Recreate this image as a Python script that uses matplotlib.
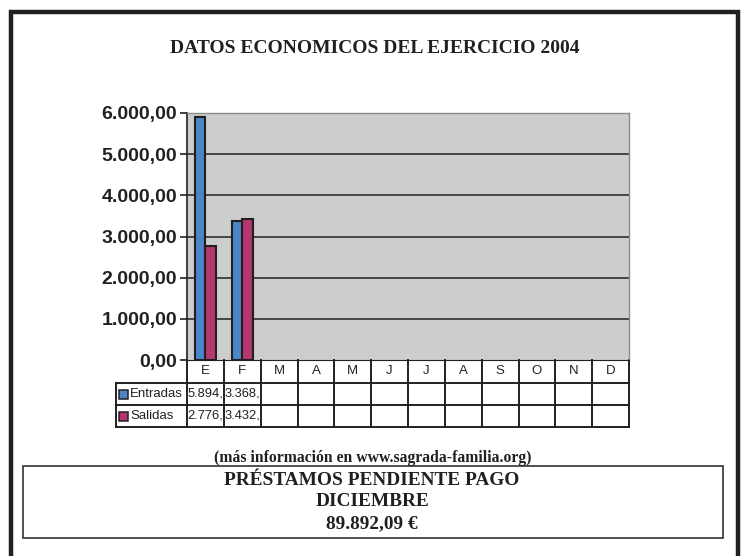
import matplotlib
matplotlib.use("Agg")
import matplotlib.pyplot as plt
from matplotlib.patches import Rectangle
from matplotlib.transforms import blended_transform_factory

# data
months = ["E", "F", "M", "A", "M", "J", "J", "A", "S", "O", "N", "D"]
entradas = [5894.0, 3368.0]
salidas = [2776.0, 3432.0]
series_names = ["Entradas", "Salidas"]
y_ticks = [0, 1000, 2000, 3000, 4000, 5000, 6000]

title = "DATOS ECONOMICOS DEL EJERCICIO 2004"
note = "(más información en www.sagrada-familia.org)"
box_lines = ["PRÉSTAMOS PENDIENTE PAGO", "DICIEMBRE", "89.892,09 €"]

BLUE = "#4b87c8"
MAGENTA = "#b5376f"
GRAY = "#cdcdcd"
INK = "#231f20"

W, H = 743, 556


def fmt(v):
    # spanish number format 1.234,56
    s = f"{v:,.2f}"
    return s.replace(",", "X").replace(".", ",").replace("X", ".")


def cell_text(v):
    # the table cells are too narrow, only the integer part and comma show
    return fmt(v).split(",")[0] + ","


def fy(py):
    return 1 - py / H


fig = plt.figure(figsize=(W / 100, H / 100), dpi=100)

# overlay in pixel coordinates for frame and text blocks
over = fig.add_axes([0, 0, 1, 1])
over.set_xlim(0, W)
over.set_ylim(H, 0)
over.axis("off")
over.plot([10.5, 10.5, 737.5, 737.5], [H + 5, 11.5, 11.5, H + 5], color=INK,
          lw=3.2, solid_joinstyle="miter")
over.text(374.5, 48.5, title, ha="center", va="center", family="Liberation Serif",
          weight="bold", fontsize=14, color=INK)
over.text(373, 458.5, note, ha="center", va="center", family="Liberation Serif",
          weight="bold", fontsize=11.3, color=INK)
over.add_patch(Rectangle((23, 466), 700, 72, fill=False, ec=INK, lw=1.1))
for i, line in enumerate(box_lines):
    over.text(372, 480.5 + i * 21.5, line, ha="center", va="center",
              family="Liberation Serif", weight="bold", fontsize=13.9, color=INK)

# main chart
x0, x1, ytop, ybot = 187, 629, 113, 360
ax = fig.add_axes([x0 / W, fy(ybot), (x1 - x0) / W, (ybot - ytop) / H])
ax.set_facecolor(GRAY)
ax.set_xlim(-0.5, len(months) - 0.5)
ax.set_ylim(0, 6000)
ax.set_yticks(y_ticks)
ax.set_yticklabels([fmt(v) for v in y_ticks], family="Liberation Sans",
                   weight="bold", fontsize=14, color=INK)
ax.tick_params(axis="y", direction="out", length=5, width=1.2, color=INK, pad=2)
ax.set_xticks([])
for v in y_ticks[1:-1]:
    ax.axhline(v, color=INK, lw=1.1, zorder=1)
for side in ["top", "right"]:
    ax.spines[side].set_color("#8a8a8a")
    ax.spines[side].set_linewidth(1)
ax.spines["left"].set_color(INK)
ax.spines["left"].set_linewidth(1.2)
ax.spines["bottom"].set_color(INK)

bw = 0.285
ax.bar([i - bw / 2 for i in range(len(entradas))], entradas, width=bw, color=BLUE,
       ec=INK, lw=1.5, zorder=3)
ax.bar([i + bw / 2 for i in range(len(salidas))], salidas, width=bw, color=MAGENTA,
       ec=INK, lw=1.5, zorder=3)

# data table below the plot
tr = blended_transform_factory(ax.transData, fig.transFigure)
rows = [ybot, 383, 405, 427]
lk = dict(color=INK, lw=1.4, clip_on=False, transform=tr)
for k in range(len(months) + 1):
    xk = k - 0.5
    ax.plot([xk, xk], [fy(rows[0]), fy(rows[-1])], **lk)
for r in rows[1:]:
    ax.plot([-0.5, len(months) - 0.5], [fy(r), fy(r)], **lk)
# legend column
pk = dict(color=INK, lw=1.4, clip_on=False, transform=fig.transFigure)
lx = 116 / W
for r in rows[1:]:
    ax.plot([lx, x0 / W], [fy(r), fy(r)], **pk)
ax.plot([lx, lx], [fy(rows[1]), fy(rows[3])], **pk)

for i, m in enumerate(months):
    ax.text(i, fy((rows[0] + rows[1]) / 2), m, transform=tr, ha="center", va="center",
            family="Liberation Sans", fontsize=9.5, color=INK, clip_on=False)

for r, (name, vals, col) in enumerate(zip(series_names, [entradas, salidas], [BLUE, MAGENTA])):
    yc = (rows[r + 1] + rows[r + 2]) / 2
    ax.add_patch(Rectangle(((lx * W + 3) / W, fy(yc + 4.5)), 9 / W, 9 / H, fc=col, ec=INK,
                           lw=1.1, transform=fig.transFigure, clip_on=False))
    ax.text((lx * W + 14) / W, fy(yc), name, transform=fig.transFigure, ha="left",
            va="center", family="Liberation Sans", fontsize=9.5, color=INK, clip_on=False)
    for i, v in enumerate(vals):
        ax.text(i - 0.48, fy(yc), cell_text(v), transform=tr, ha="left", va="center",
                family="Liberation Sans", fontsize=9.3, color=INK, clip_on=False)

fig.savefig("out.png", dpi=100)
